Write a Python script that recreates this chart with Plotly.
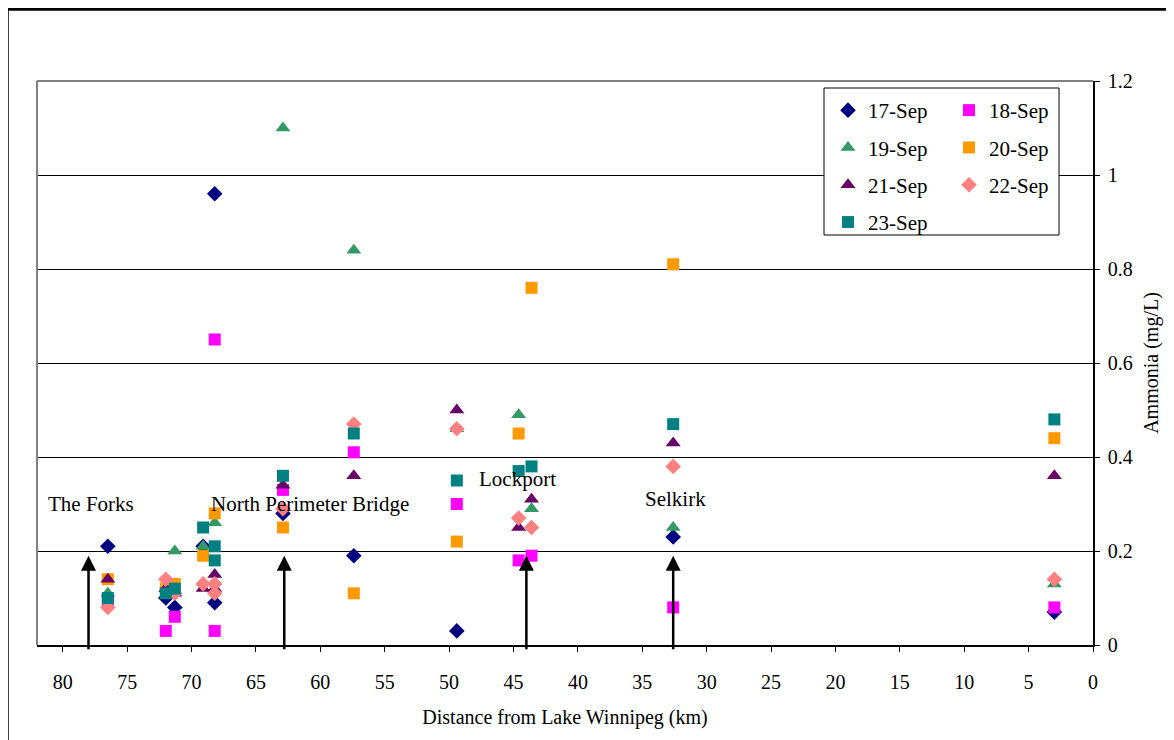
import plotly.graph_objects as go

# ---- data (distance from Lake Winnipeg in km, ammonia mg/L) ----
x_17 = [76.5, 72.0, 71.3, 69.1, 68.2, 68.2, 62.9, 57.4, 49.4, 32.6, 3.0]
y_17 = [0.21, 0.10, 0.08, 0.21, 0.96, 0.09, 0.28, 0.19, 0.03, 0.23, 0.07]

x_18 = [76.5, 72.0, 71.3, 68.2, 68.2, 62.9, 57.4, 49.4, 44.6, 43.6, 32.6, 3.0]
y_18 = [0.09, 0.03, 0.06, 0.65, 0.03, 0.33, 0.41, 0.30, 0.18, 0.19, 0.08, 0.08]

x_19 = [76.5, 71.3, 69.1, 68.2, 62.9, 57.4, 49.4, 44.6, 43.6, 32.6, 3.0]
y_19 = [0.11, 0.20, 0.21, 0.26, 1.10, 0.84, 0.46, 0.49, 0.29, 0.25, 0.13]

x_20 = [76.5, 72.0, 71.3, 69.1, 68.2, 62.9, 57.4, 49.4, 44.6, 43.6, 32.6, 3.0]
y_20 = [0.14, 0.12, 0.13, 0.19, 0.28, 0.25, 0.11, 0.22, 0.45, 0.76, 0.81, 0.44]

x_21 = [76.5, 72.0, 71.3, 69.1, 68.2, 68.2, 62.9, 57.4, 49.4, 44.6, 43.6, 32.6, 3.0]
y_21 = [0.14, 0.12, 0.11, 0.12, 0.15, 0.12, 0.34, 0.36, 0.50, 0.25, 0.31, 0.43, 0.36]

x_22 = [76.5, 72.0, 71.3, 69.1, 68.2, 68.2, 62.9, 57.4, 49.4, 44.6, 43.6, 32.6, 3.0]
y_22 = [0.08, 0.14, 0.11, 0.13, 0.13, 0.11, 0.29, 0.47, 0.46, 0.27, 0.25, 0.38, 0.14]

x_23 = [76.5, 72.0, 71.3, 69.1, 68.2, 68.2, 62.9, 57.4, 49.4, 44.6, 43.6, 32.6, 3.0]
y_23 = [0.10, 0.11, 0.12, 0.25, 0.21, 0.18, 0.36, 0.45, 0.35, 0.37, 0.38, 0.47, 0.48]

series_names = ["17-Sep", "18-Sep", "19-Sep", "20-Sep", "21-Sep", "22-Sep", "23-Sep"]

# landmarks (arrows + labels)
landmark_names = ["The Forks", "North Perimeter Bridge", "Lockport", "Selkirk"]
landmark_km = [78.0, 62.8, 44.0, 32.6]
label_km = [77.8, 60.8, 44.7, 32.4]
label_y = [0.30, 0.30, 0.353, 0.31]
arrow_top = 0.19

FONT = "Liberation Serif"

styles = [
    dict(symbol="diamond", color="#000080", size=12),
    dict(symbol="square", color="#FF00FF", size=12),
    dict(symbol="triangle-up", color="#339966", size=13),
    dict(symbol="square", color="#FF9900", size=12),
    dict(symbol="triangle-up", color="#660066", size=13),
    dict(symbol="diamond", color="#FF8080", size=12),
    dict(symbol="square", color="#008080", size=12),
]
xs = [x_17, x_18, x_19, x_20, x_21, x_22, x_23]
ys = [y_17, y_18, y_19, y_20, y_21, y_22, y_23]

fig = go.Figure()
for i, (name, xv, yv, st) in enumerate(zip(series_names, xs, ys, styles)):
    fig.add_trace(go.Scatter(
        x=xv, y=yv, mode="markers", name=name,
        legend="legend" if i % 2 == 0 else "legend2",
        legendgroup=name,
        marker=dict(symbol=st["symbol"], color=st["color"], size=st["size"],
                    line=dict(width=0)),
    ))

annotations = []
for nm, km, lk, ly in zip(landmark_names, landmark_km, label_km, label_y):
    annotations.append(dict(
        x=km, y=arrow_top, ax=km, ay=-0.012, xref="x", yref="y",
        axref="x", ayref="y", text="", showarrow=True,
        arrowhead=2, arrowsize=1.2, arrowwidth=2.5, arrowcolor="black",
    ))
    annotations.append(dict(
        x=lk, y=ly, xref="x", yref="y", text=nm, showarrow=False,
        font=dict(family=FONT, size=21, color="black"),
    ))

# page is offset by the 8px default body margin
OFF = 8
W, H = 1174, 740
L, R, T, B = 37, 1093, 81, 645   # plot area in page pixels
pw, ph = R - L, B - T


def px(xp):
    return (xp - L) / pw


def py(yp):
    return (B - yp) / ph


shapes = [
    # outer chart frame (thick black)
    dict(type="rect", xref="paper", yref="paper",
         x0=px(6.5), x1=px(1200), y0=py(760), y1=py(8.5),
         line=dict(color="black", width=4.5), layer="above"),
    # plot area border (gray, left and top)
    dict(type="line", xref="paper", yref="paper", x0=0, x1=1, y0=1, y1=1,
         line=dict(color="#808080", width=2), layer="above"),
    dict(type="line", xref="paper", yref="paper", x0=0, x1=0, y0=0, y1=1,
         line=dict(color="#808080", width=2), layer="above"),
    # legend box
    dict(type="rect", xref="paper", yref="paper",
         x0=px(824), x1=px(1059), y0=py(235), y1=py(88),
         line=dict(color="black", width=1), fillcolor="white", layer="above"),
]

fig.update_layout(
    width=W, height=H,
    margin=dict(l=L - OFF, r=W + OFF - R, t=T - OFF, b=H + OFF - B),
    paper_bgcolor="white", plot_bgcolor="white",
    font=dict(family=FONT, size=20, color="black"),
    showlegend=True,
    legend=dict(x=px(828), y=py(90), xanchor="left", yanchor="top",
                bgcolor="rgba(0,0,0,0)", font=dict(family=FONT, size=21),
                tracegroupgap=7, itemwidth=30),
    legend2=dict(x=px(949), y=py(90), xanchor="left", yanchor="top",
                 bgcolor="rgba(0,0,0,0)", font=dict(family=FONT, size=21),
                 tracegroupgap=7, itemwidth=30),
    xaxis=dict(range=[82, 0], tick0=0, dtick=5, showgrid=False, zeroline=False,
               showline=True, linecolor="black", linewidth=1.5,
               ticks="outside", ticklen=5, tickcolor="black",
               ticklabelstandoff=13, tickfont=dict(size=20),
               title=dict(text="Distance from Lake Winnipeg (km)",
                          font=dict(size=20), standoff=18)),
    yaxis=dict(range=[0, 1.2], dtick=0.2, side="right", showgrid=True,
               gridcolor="black", gridwidth=1, zeroline=False,
               showline=True, linecolor="black", linewidth=1.5,
               ticks="outside", ticklen=5, tickcolor="black",
               ticklabelstandoff=4, tickfont=dict(size=20),
               title=dict(text="Ammonia (mg/L)", font=dict(size=20), standoff=12)),
    annotations=annotations,
    shapes=shapes,
)

fig.write_html("out.html")
